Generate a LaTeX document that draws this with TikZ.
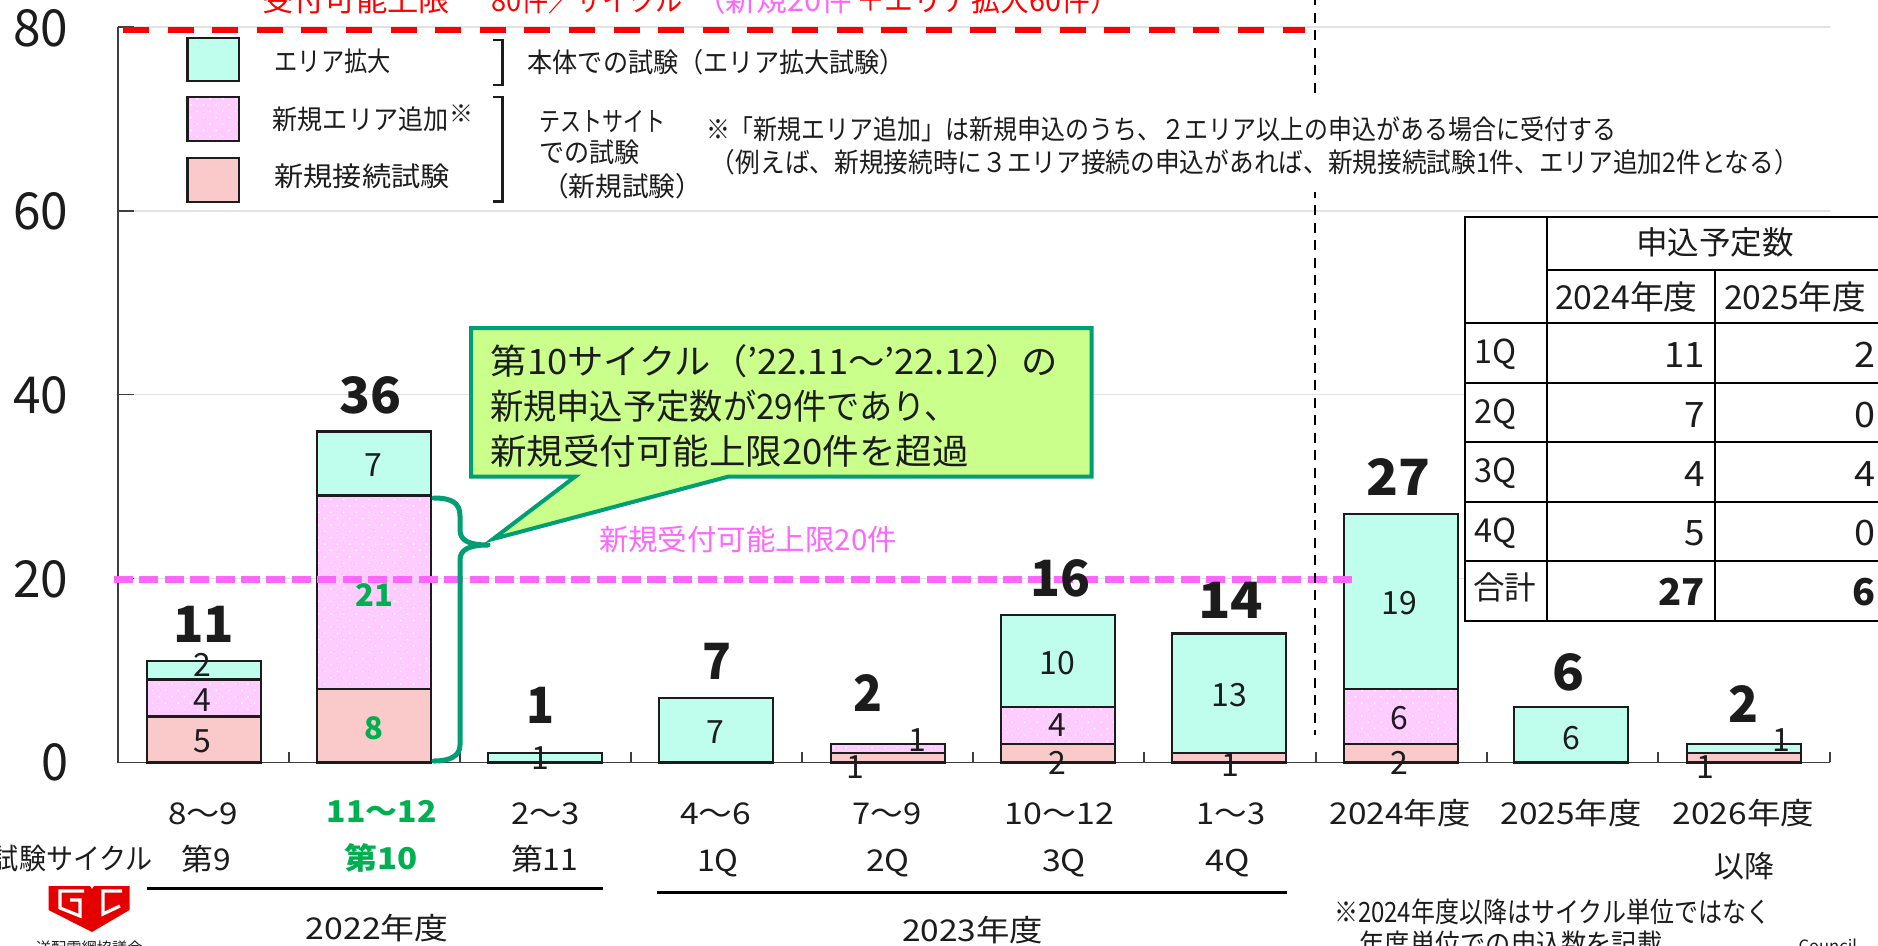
\documentclass[tikz,border=0pt]{standalone}
\usepackage{fontspec}
\setmainfont{Noto Sans CJK JP}
\usetikzlibrary{patterns.meta}
\definecolor{cyanc}{HTML}{BFFDEC}
\definecolor{pinkc}{HTML}{FFCCFF}
\definecolor{salmonc}{HTML}{FACACA}
\definecolor{tealc}{HTML}{009E73}
\definecolor{calloutc}{HTML}{CBFF8C}
\definecolor{greent}{HTML}{00B050}
\definecolor{pinkt}{HTML}{FF66FF}
\definecolor{redt}{HTML}{FF0000}
\definecolor{gridc}{HTML}{E2E2E2}
\definecolor{inkc}{HTML}{1C1C1C}
\newcounter{txcnt}
% fitted text: style, x0, x1, y centre, font size, text
\newcommand{\tx}[6]{\stepcounter{txcnt}\node[name=t\arabic{txcnt},anchor=base,inner sep=0pt,text=inkc,#1] at ({(#2+#3)/2},{#4+.37*#5}) {\resizebox{\dimexpr #3pt-#2pt\relax}{\height}{\fontsize{#5}{#5}\selectfont #6}};}
% natural text: style, x, y centre, font size, text
\newcommand{\tc}[5]{\stepcounter{txcnt}\node[name=t\arabic{txcnt},anchor=base,inner sep=0pt,text=inkc,#1] at ({#2},{#3+.37*#4}) {\fontsize{#4}{#4}\selectfont #5};}
% bar segment: style, centre, from value, to value
\newcommand{\seg}[4]{\draw[barseg,#1] ({#2-57},{762.3-9.195*#3}) rectangle ({#2+57},{762.3-9.195*#4});}
\tikzset{
 x=1pt,y=-1pt,
 barseg/.style={draw=inkc,line width=2.5pt},
 cy/.style={fill=cyanc},
 sa/.style={fill=salmonc},
 pk/.style={pattern={Dots[distance=9pt,radius=1pt,angle=45]},pattern color=white,preaction={fill=pinkc}},
 gridl/.style={draw=gridc,line width=1.6pt},
 axisl/.style={draw=inkc!85,line width=1.6pt},
 tblline/.style={draw=black,line width=2.4pt},
 bracketl/.style={draw=inkc,line width=2.5pt},
 ruleblk/.style={draw=black,line width=2.6pt},
}
\begin{document}
\begin{tikzpicture}
\useasboundingbox (0,0) rectangle (1878,945);
\clip (0,0) rectangle (1878,945);
\fill[white] (0,0) rectangle (1878,945);
% grid
\foreach \v in {26.7,210.7,394.5,578.5} \draw[gridl] (118,\v) -- (1830,\v);
% axes
\draw[axisl] (118,26.7) -- (118,762.3) -- (1830,762.3);
\foreach \v in {26.7,210.7,394.5,578.5} \draw[axisl] (118,\v) -- (134,\v);
\foreach \v in {289,460,631,802,973,1144,1316,1487,1658,1830} \draw[axisl] (\v,752) -- (\v,762.3);
% bars
\seg{sa}{204}{0}{5}\seg{pk}{204}{5}{9}\seg{cy}{204}{9}{11}
\seg{sa}{374}{0}{8}\seg{pk}{374}{8}{29}\seg{cy}{374}{29}{36}
\seg{cy}{545}{0}{1}
\seg{cy}{716}{0}{7}
\seg{sa}{888}{0}{1}\seg{pk}{888}{1}{2}
\seg{sa}{1058}{0}{2}\seg{pk}{1058}{2}{6}\seg{cy}{1058}{6}{16}
\seg{sa}{1229}{0}{1}\seg{cy}{1229}{1}{14}
\seg{sa}{1401}{0}{2}\seg{pk}{1401}{2}{8}\seg{cy}{1401}{8}{27}
\seg{cy}{1571}{0}{6}
\seg{sa}{1744}{0}{1}\seg{cy}{1744}{1}{2}
% limit lines
\draw[redt,line width=6pt,dash pattern=on 26pt off 18.6pt] (123,30.3) -- (1304.5,30.3);
\draw[pinkt,line width=6.5pt,dash pattern=on 19pt off 6.4pt] (114,579.3) -- (1352.5,579.3);
% divider
\draw[black,line width=2.4pt,dash pattern=on 10pt off 7.5pt] (1314.7,-5) -- (1314.7,735);
\fill[white] (700,95) rectangle (1800,192);
% top caption
\tx{text=redt}{262}{450}{0}{30}{受付可能上限}
\tx{text=redt}{491}{683}{0}{30}{80件／サイクル}
\tx{text=pinkt}{695}{852}{0}{30}{（新規20件}
\tx{text=redt}{856}{1119}{0}{30}{＋エリア拡大60件）}
% axis numbers
\tx{}{13}{68}{27.5}{51}{80}
\tx{}{13}{68}{211}{51}{60}
\tx{}{13}{68}{395}{51}{40}
\tx{}{13}{68}{579}{51}{20}
\tx{}{41}{68}{762}{51}{0}
% legend
\draw[barseg,cy] (187.6,38) rectangle (239,81);
\draw[barseg,pk] (187.6,97) rectangle (239,141);
\draw[barseg,sa] (187.6,158) rectangle (239,202);
\tx{}{274.6}{391}{62}{27}{エリア拡大}
\tx{}{272.8}{448.4}{120}{27}{新規エリア追加}
\tx{}{449}{473}{114}{24}{※}
\tx{}{274.6}{449.6}{176.7}{27}{新規接続試験}
\draw[bracketl] (493.4,40) -- (502.4,40) -- (502.4,85) -- (493.4,85);
\draw[bracketl] (493.4,97) -- (502.4,97) -- (502.4,201.7) -- (493.4,201.7);
\tx{}{527.6}{905}{63}{27}{本体での試験（エリア拡大試験）}
\tx{}{539.6}{665.5}{121.7}{27}{テストサイト}
\tx{}{539.6}{640}{153}{27}{での試験}
\tx{}{542}{702}{186.7}{27}{（新規試験）}
\tx{}{706}{1616}{130}{27}{※「新規エリア追加」は新規申込のうち、２エリア以上の申込がある場合に受付する}
\tx{}{711}{1799}{163}{27}{（例えば、新規接続時に３エリア接続の申込があれば、新規接続試験1件、エリア追加2件となる）}
% totals
\tx{font=\bfseries}{173}{234}{623.5}{50}{11}
\tx{font=\bfseries}{339}{401}{395}{50}{36}
\tx{font=\bfseries}{526}{554}{705}{50}{1}
\tx{font=\bfseries}{702}{731}{661}{50}{7}
\tx{font=\bfseries}{853}{882}{692.5}{50}{2}
\tx{font=\bfseries}{1030}{1090}{577.5}{50}{16}
\tx{font=\bfseries}{1198}{1263}{600}{50}{14}
\tx{font=\bfseries}{1366}{1430}{477}{50}{27}
\tx{font=\bfseries}{1552}{1584}{672}{50}{6}
\tx{font=\bfseries}{1728}{1758}{704}{50}{2}
% segment values
\tc{}{202}{740.7}{32}{5}
\tc{}{202}{700}{32}{4}
\tc{}{202}{665}{32}{2}
\tc{}{373}{465}{32}{7}
\tc{text=greent,font=\bfseries}{374}{594.7}{31}{21}
\tc{text=greent,font=\bfseries}{374}{727.7}{31}{8}
\tc{}{540}{758}{32}{1}
\tc{}{715}{732}{32}{7}
\tc{}{917}{740}{32}{1}
\tc{}{855}{766.7}{32}{1}
\tc{}{1057}{763}{32}{2}
\tc{}{1057}{725}{32}{4}
\tc{}{1057}{663}{32}{10}
\tc{}{1230}{765}{32}{1}
\tc{}{1229}{695}{32}{13}
\tc{}{1399}{763}{32}{2}
\tc{}{1399}{718}{32}{6}
\tc{}{1399}{603}{32}{19}
\tc{}{1571}{738}{32}{6}
\tc{}{1781}{740}{32}{1}
\tc{}{1705.6}{766.7}{32}{1}
% brace and callout
\draw[tealc,line width=5pt,line join=round,line cap=round] (434,498) .. controls (452,498) and (460,503) .. (460,516) -- (460,530) .. controls (460,541) and (470,545) .. (488,545) .. controls (470,545) and (460,549) .. (460,560) -- (460,745) .. controls (460,756) and (450,761) .. (434,761);
\draw[tealc,fill=calloutc,line width=4pt,line join=miter] (471,328) -- (1091.7,328) -- (1091.7,476.7) -- (728,476.7) -- (493,539) -- (575,476.7) -- (471,476.7) -- cycle;
\tx{}{491}{1058}{362}{35}{第10サイクル（’22.11～’22.12）の}
\tx{}{490}{958}{406.7}{35}{新規申込予定数が29件であり、}
\tx{}{490}{968.6}{451.7}{35}{新規受付可能上限20件を超過}
\tx{text=pinkt}{599}{897}{540}{29}{新規受付可能上限20件}
% table
\fill[white] (1465,216.7) rectangle (1890,621);
\draw[tblline] (1465,216.7) rectangle (1890,621);
\draw[tblline] (1547,216.7) -- (1547,621);
\draw[tblline] (1715,270) -- (1715,621);
\draw[tblline] (1547,270) -- (1890,270);
\foreach \v in {323,382.7,442,501.7,561} \draw[tblline] (1465,\v) -- (1890,\v);
\tx{}{1636}{1794}{243}{32}{申込予定数}
\tx{}{1555}{1697.6}{297.7}{33}{2024年度}
\tx{}{1724}{1866}{297.7}{33}{2025年度}
\tx{}{1474.5}{1516.5}{351.7}{33}{1Q}
\tx{}{1474.5}{1516.5}{411.7}{33}{2Q}
\tx{}{1474.5}{1516.5}{470.7}{33}{3Q}
\tx{}{1474.5}{1516.5}{530}{33}{4Q}
\tx{}{1473}{1536}{588}{32}{合計}
\tx{}{1664}{1704.5}{355}{35}{11}
\tx{}{1684}{1704.5}{415}{35}{7}
\tx{}{1684}{1704.5}{474}{35}{4}
\tx{}{1684}{1704.5}{533}{35}{5}
\tx{font=\bfseries}{1658}{1704.5}{591.7}{37}{27}
\tx{}{1854}{1875}{355}{35}{2}
\tx{}{1854}{1875}{415}{35}{0}
\tx{}{1854}{1875}{474}{35}{4}
\tx{}{1854}{1875}{533}{35}{0}
\tx{font=\bfseries}{1852}{1875}{591.7}{37}{6}
% category labels
\tx{}{-8}{153}{859}{29}{試験サイクル}
\tx{}{168}{238}{813}{30}{8～9}
\tx{}{181.7}{231}{859}{30}{第9}
\tx{text=greent,font=\bfseries}{326.7}{436.5}{811.7}{30}{11～12}
\tx{text=greent,font=\bfseries}{344.7}{418}{858}{30}{第10}
\tx{}{511}{580}{813}{30}{2～3}
\tx{}{511}{578.5}{859}{30}{第11}
\tx{}{680}{751}{813}{30}{4～6}
\tx{}{697}{738.6}{860}{30}{1Q}
\tx{}{852.5}{921.5}{813}{30}{7～9}
\tx{}{866}{909.5}{860}{30}{2Q}
\tx{}{1004.7}{1113.9}{813}{30}{10～12}
\tx{}{1042}{1085.7}{860}{30}{3Q}
\tx{}{1196.6}{1265.5}{813}{30}{1～3}
\tx{}{1205.6}{1250}{860}{30}{4Q}
\tx{}{1329.7}{1470.6}{813}{30}{2024年度}
\tx{}{1500.6}{1641.4}{813}{30}{2025年度}
\tx{}{1672.6}{1814}{813}{30}{2026年度}
\tx{}{1714.6}{1774.5}{866.7}{30}{以降}
\draw[ruleblk] (147,888.7) -- (602.5,888.7);
\draw[ruleblk] (656.5,892.3) -- (1286.5,892.3);
\tx{}{305.8}{448.4}{928}{30}{2022年度}
\tx{}{902}{1043}{930}{30}{2023年度}
\tx{}{1334}{1770}{911.7}{28}{※2024年度以降はサイクル単位ではなく}
\tx{}{1359.7}{1662.4}{944}{28}{年度単位での申込数を記載}
\tx{}{1798.5}{1857}{946}{17}{Council}
% logo
\fill[red!90!black] (48.5,886) -- (90,886) -- (92,889) -- (94,886) -- (129.5,886) -- (129.5,910) -- (92,932) -- (48.5,910) -- cycle;
\draw[white,line width=3.2pt,line join=miter] (84,891) -- (60,891) -- (60,908) -- (80,916) -- (80,900) -- (70,900);
\draw[white,line width=3.2pt,line join=miter] (122,891) -- (103,891) -- (103,914) -- (120,906);
\tx{}{36}{142.7}{948}{15}{送配電網協議会}
\end{tikzpicture}
\end{document}
